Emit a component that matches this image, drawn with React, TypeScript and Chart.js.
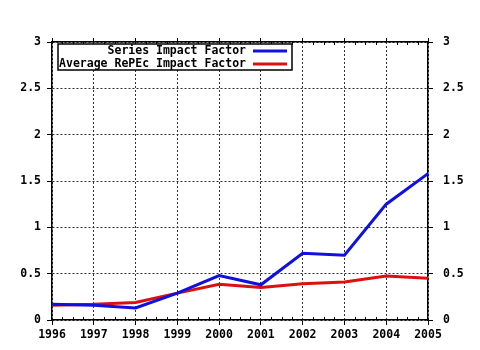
import React, { useEffect, useRef } from "react";
import { Chart, registerables } from "chart.js";

Chart.register(...registerables);

const years = ["1996", "1997", "1998", "1999", "2000", "2001", "2002", "2003", "2004", "2005"];
const seriesImpact = [0.17, 0.16, 0.13, 0.29, 0.48, 0.38, 0.72, 0.7, 1.25, 1.58];
const averageRePEc = [0.16, 0.17, 0.19, 0.29, 0.385, 0.35, 0.39, 0.41, 0.475, 0.45];
const seriesLabels = ["Series Impact Factor", "Average RePEc Impact Factor"];
const seriesColors = ["#1010e0", "#dd1010"];

const FONT = "'DejaVu Sans Mono', monospace";

const minorTicksPlugin = {
  id: "minorTicks",
  afterDraw(chart: any) {
    const ctx = chart.ctx;
    const xs = chart.scales.x;
    const { top, bottom } = chart.chartArea;
    ctx.save();
    ctx.strokeStyle = "#000";
    ctx.lineWidth = 1;
    ctx.beginPath();
    for (let i = 0; i < years.length - 1; i++) {
      const a = xs.getPixelForValue(i);
      const b = xs.getPixelForValue(i + 1);
      for (let k = 1; k < 4; k++) {
        const x = Math.round(a + ((b - a) * k) / 4) + 0.5;
        ctx.moveTo(x, bottom);
        ctx.lineTo(x, bottom - 3);
        ctx.moveTo(x, top);
        ctx.lineTo(x, top + 3);
      }
    }
    ctx.stroke();
    ctx.restore();
  },
};

const legendPlugin = {
  id: "boxLegend",
  afterDraw(chart: any) {
    const ctx = chart.ctx;
    const left = 58, top = 44, right = 292, bottom = 70;
    ctx.save();
    ctx.fillStyle = "#ffffff";
    ctx.fillRect(left, top, right - left, bottom - top);
    ctx.strokeStyle = "#000";
    ctx.lineWidth = 1.5;
    ctx.strokeRect(left, top, right - left, bottom - top);
    ctx.font = `bold 11.5px ${FONT}`;
    ctx.textAlign = "right";
    ctx.textBaseline = "middle";
    chart.data.datasets.forEach((ds: any, i: number) => {
      const y = top + 7 + i * 13;
      ctx.fillStyle = "#000";
      ctx.fillText(ds.label, 246, y + 0.5);
      ctx.strokeStyle = ds.borderColor;
      ctx.lineWidth = 3;
      ctx.beginPath();
      ctx.moveTo(253, y);
      ctx.lineTo(287, y);
      ctx.stroke();
    });
    ctx.restore();
  },
};

const fmt = (v: any) => String(Math.round(Number(v) * 10) / 10);

export default function App() {
  const ref = useRef<HTMLCanvasElement>(null);
  useEffect(() => {
    if (!ref.current) return;
    const tickFont = { family: FONT, size: 11.5, weight: "bold" as const };
    const chart = new Chart(ref.current, {
      type: "line",
      data: {
        labels: years,
        datasets: [
          {
            label: seriesLabels[0],
            data: seriesImpact,
            borderColor: seriesColors[0],
            backgroundColor: seriesColors[0],
            borderWidth: 3,
            pointRadius: 0,
            tension: 0,
            yAxisID: "y",
          },
          {
            label: seriesLabels[1],
            data: averageRePEc,
            borderColor: seriesColors[1],
            backgroundColor: seriesColors[1],
            borderWidth: 3,
            pointRadius: 0,
            tension: 0,
            yAxisID: "y",
          },
        ],
      },
      options: {
        animation: false,
        responsive: false,
        layout: { padding: 0 },
        plugins: { legend: { display: false }, tooltip: { enabled: false } },
        scales: {
          x: {
            position: "bottom",
            offset: false,
            grid: {
              color: "#333",
              lineWidth: 1,
              tickLength: 5,
              tickBorderDash: [],
              tickColor: "#000",
            },
            border: { color: "#000", width: 1.5, dash: [2, 2] },
            ticks: { font: tickFont, color: "#000", padding: 3, maxRotation: 0, autoSkip: false },
            afterFit(s: any) { s.height = 30; },
          },
          x2: {
            position: "top",
            offset: false,
            grid: { drawOnChartArea: false, color: "#000", tickLength: 4 },
            border: { color: "#000", width: 1.5 },
            ticks: { display: false },
            afterFit(s: any) { s.height = 42; },
          },
          y: {
            position: "left",
            min: 0,
            max: 3,
            grid: { color: "#333", lineWidth: 1, tickLength: 5, tickColor: "#000", tickBorderDash: [] },
            border: { color: "#000", width: 1.5, dash: [2, 2] },
            ticks: { stepSize: 0.5, font: tickFont, color: "#000", padding: 6, callback: fmt },
            afterFit(s: any) { s.width = 52; },
          },
          y2: {
            position: "right",
            min: 0,
            max: 3,
            grid: { drawOnChartArea: false, color: "#000", tickLength: 5 },
            border: { color: "#000", width: 1.5 },
            ticks: { stepSize: 0.5, font: tickFont, color: "#000", padding: 10, callback: fmt },
            afterFit(s: any) { s.width = 52; },
          },
        },
      } as any,
      plugins: [minorTicksPlugin, legendPlugin],
    });
    return () => chart.destroy();
  }, []);
  return (
    <div style={{ position: "fixed", left: 0, top: 0, width: 480, height: 350, background: "#fff" }}>
      <canvas ref={ref} width={480} height={350} />
    </div>
  );
}
